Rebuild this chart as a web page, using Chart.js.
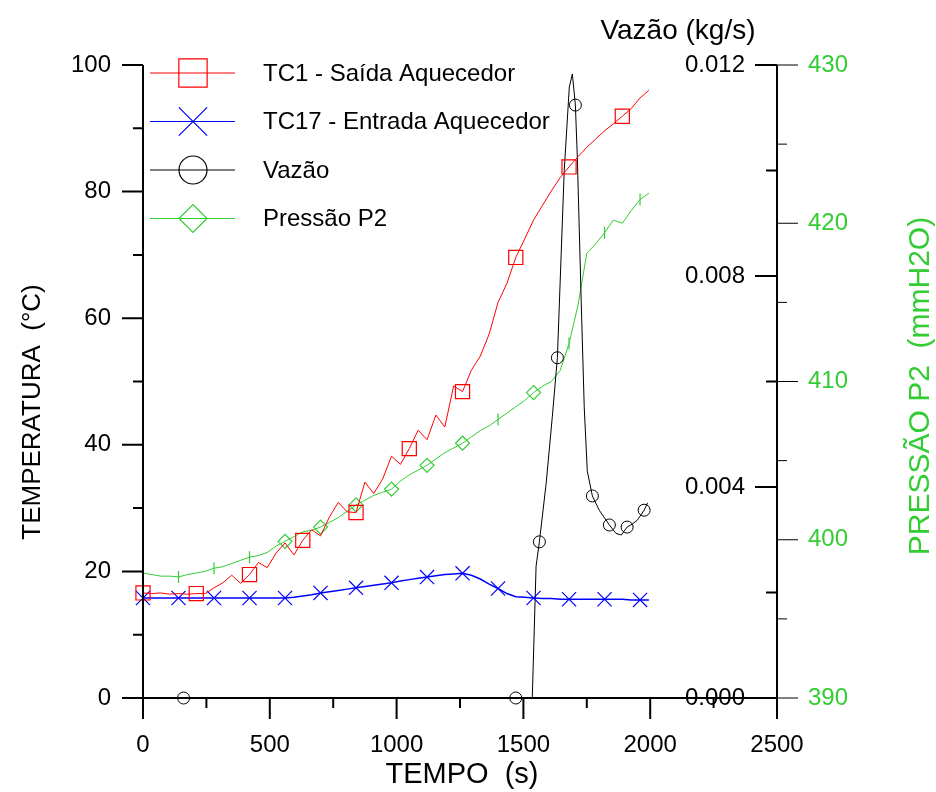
<!DOCTYPE html>
<html>
<head>
<meta charset="utf-8">
<script src="https://cdn.jsdelivr.net/npm/chart.js@4.4.1/dist/chart.umd.min.js"></script>
<style>
  html, body { margin: 0; padding: 0; background: #fff; }
</style>
</head>
<body>
<canvas id="myChart" width="936" height="792"></canvas>
<script>
// tempo (s) das leituras de temperatura e pressao
const tempo = [0, 35, 70, 105, 140, 175, 210, 245, 280, 315, 350, 385, 420, 455, 490, 525, 560, 595,
  630, 665, 700, 735, 770, 805, 840, 875, 910, 945, 980, 1015, 1050, 1085, 1120, 1155, 1190, 1225,
  1260, 1295, 1330, 1365, 1400, 1435, 1470, 1505, 1540, 1575, 1610, 1645, 1680, 1715, 1750, 1785,
  1820, 1855, 1890, 1925, 1960, 1995];

// TC1 - Saida Aquecedor (C)
const tc1 = [16.6, 16.5, 16.6, 16.4, 16.5, 16.4, 16.5, 16.5, 17.4, 18.2, 19.4, 18.1, 19.5, 21.4, 20.6,
  22.9, 24.5, 22.6, 24.9, 26.6, 25.6, 28.6, 30.9, 29.4, 29.3, 34.1, 32.3, 34.6, 38.2, 36.9, 39.4,
  42.3, 40.8, 44.7, 42.8, 49.3, 48.4, 51.8, 54.0, 57.5, 62.5, 65.5, 69.6, 72.5, 75.5, 77.8, 80.1,
  82.2, 83.9, 85.5, 87.0, 88.3, 89.6, 90.7, 91.9, 93.1, 94.8, 96.0];

// TC17 - Entrada Aquecedor (C)
const tc17 = [15.8, 15.8, 15.8, 15.8, 15.8, 15.8, 15.8, 15.8, 15.8, 15.8, 15.8, 15.8, 15.8, 15.8, 15.8,
  15.8, 15.8, 15.9, 16.1, 16.3, 16.6, 16.8, 17.0, 17.2, 17.4, 17.6, 17.8, 18.0, 18.2, 18.5, 18.7,
  18.9, 19.1, 19.3, 19.5, 19.6, 19.7, 19.4, 18.8, 18.0, 17.3, 16.5, 16.0, 15.9, 15.8, 15.7, 15.7,
  15.6, 15.6, 15.6, 15.6, 15.6, 15.6, 15.6, 15.6, 15.5, 15.5, 15.5];

// Pressao P2 (mmH2O)
const p2 = [397.9, 397.8, 397.7, 397.7, 397.65, 397.8, 397.9, 398.0, 398.2, 398.3, 398.5, 398.7, 398.9,
  399.0, 399.2, 399.6, 399.9, 400.2, 400.5, 400.6, 400.8, 401.1, 401.4, 401.8, 402.2, 402.5, 402.8,
  403.0, 403.2, 403.7, 404.1, 404.4, 404.7, 405.1, 405.5, 405.8, 406.1, 406.5, 406.9, 407.2, 407.6,
  408.0, 408.4, 408.8, 409.3, 409.7, 410.0, 410.7, 412.4, 414.8, 418.1, 418.7, 419.4, 420.2, 420.0,
  420.8, 421.5, 421.9];

// Vazao (kg/s), com tempo proprio
const vazaoTempo = [0, 160, 1470, 1535, 1550, 1563, 1590, 1614, 1634, 1661, 1681, 1693, 1705, 1713,
  1728, 1740, 1752, 1772, 1799, 1839, 1865, 1886, 1909, 1930, 1949, 1976, 1990];
const vazao = [0, 0, 0, 0, 0.0025, 0.00296, 0.00408, 0.00533, 0.00645, 0.0100, 0.01158, 0.01183,
  0.01124, 0.0102, 0.0075, 0.0055, 0.0043, 0.00383, 0.00356, 0.00328, 0.00312, 0.00309, 0.00324,
  0.0033, 0.00337, 0.00356, 0.0037];
const vazaoMarcas = [1, 2, 5, 8, 12, 17, 19, 22, 25];

// marcadores da pressao: losango ou traco vertical
const p2Losangos = [560, 700, 840, 980, 1120, 1260, 1540];

const legendaNomes = ['TC1 - Saída Aquecedor', 'TC17 - Entrada Aquecedor', 'Vazão', 'Pressão P2'];

const verde = 'rgb(51,204,51)';
const fonte = '"Liberation Sans", Arial, sans-serif';

function pares(xs, ys) {
  return xs.map((x, i) => ({ x: x, y: ys[i] }));
}

const eixos = {
  id: 'eixos',
  afterDatasetsDraw(chart) {
    const ctx = chart.ctx;
    const sx = chart.scales.x, sT = chart.scales.yT, sV = chart.scales.yV, sP = chart.scales.yP;
    const xL = sx.getPixelForValue(0), xR = sx.getPixelForValue(2500);
    const yB = sT.getPixelForValue(0), yTop = sT.getPixelForValue(100);
    ctx.save();
    ctx.strokeStyle = '#000';
    ctx.lineWidth = 2;
    ctx.beginPath();
    ctx.moveTo(xL, yTop); ctx.lineTo(xL, yB + 21);
    ctx.moveTo(xL - 21, yB); ctx.lineTo(xR, yB);
    ctx.moveTo(xR, yTop); ctx.lineTo(xR, yB + 21);
    // temperatura
    for (let v = 0; v <= 100; v += 10) {
      const y = sT.getPixelForValue(v);
      const len = v % 20 === 0 ? 21 : 10;
      ctx.moveTo(xL - len, y); ctx.lineTo(xL, y);
    }
    // tempo
    for (let v = 0; v <= 2500; v += 250) {
      const x = sx.getPixelForValue(v);
      const len = v % 500 === 0 ? 21 : 10;
      ctx.moveTo(x, yB); ctx.lineTo(x, yB + len);
    }
    // vazao
    for (let i = 0; i <= 6; i++) {
      const y = sV.getPixelForValue(i * 0.002);
      const len = i % 2 === 0 ? 22 : 11;
      ctx.moveTo(xR - len, y); ctx.lineTo(xR, y);
    }
    ctx.stroke();
    // pressao
    ctx.lineWidth = 1;
    ctx.beginPath();
    for (let v = 390; v <= 430; v += 5) {
      const y = sP.getPixelForValue(v);
      const len = v % 10 === 0 ? 21 : 10;
      ctx.moveTo(xR, y); ctx.lineTo(xR + len, y);
    }
    ctx.stroke();

    ctx.font = '24px ' + fonte;
    ctx.fillStyle = '#000';
    ctx.textBaseline = 'middle';
    ctx.textAlign = 'right';
    for (let v = 0; v <= 100; v += 20) {
      ctx.fillText(String(v), xL - 32, sT.getPixelForValue(v));
    }
    for (let i = 0; i <= 6; i += 2) {
      const v = i * 0.002;
      ctx.fillText(v.toFixed(3), xR - 32, sV.getPixelForValue(v));
    }
    ctx.textAlign = 'center';
    for (let v = 0; v <= 2500; v += 500) {
      ctx.fillText(String(v), sx.getPixelForValue(v), yB + 47);
    }
    ctx.textAlign = 'left';
    ctx.fillStyle = verde;
    for (let v = 390; v <= 430; v += 10) {
      ctx.fillText(String(v), xR + 31, sP.getPixelForValue(v));
    }

    // titulos
    ctx.fillStyle = '#000';
    ctx.textAlign = 'center';
    ctx.font = '29px ' + fonte;
    ctx.fillText('TEMPO  (s)', 462, 775);
    ctx.font = '28px ' + fonte;
    ctx.fillText('Vazão (kg/s)', 678, 31);
    ctx.save();
    ctx.translate(33, 412);
    ctx.rotate(-Math.PI / 2);
    ctx.font = '26px ' + fonte;
    ctx.fillText('TEMPERATURA  (°C)', 0, 0);
    ctx.restore();
    ctx.save();
    ctx.translate(921, 386);
    ctx.rotate(-Math.PI / 2);
    ctx.font = '30px ' + fonte;
    ctx.fillStyle = verde;
    ctx.fillText('PRESSÃO P2  (mmH2O)', 0, 0);
    ctx.restore();

    // legenda
    const cores = ['#ff0000', '#0000ff', '#000000', verde];
    const estilos = ['rect', 'crossRot', 'circle', 'rectRot'];
    const raios = [20, 20, 14, 14];
    ctx.font = '24px ' + fonte;
    ctx.textAlign = 'left';
    legendaNomes.forEach((nome, i) => {
      const y = 73 + i * 48.5;
      ctx.strokeStyle = cores[i];
      ctx.lineWidth = 1;
      ctx.beginPath();
      ctx.moveTo(150, y); ctx.lineTo(235, y);
      ctx.stroke();
      ctx.fillStyle = 'rgba(0,0,0,0)';
      ctx.lineWidth = 1.2;
      Chart.helpers.drawPoint(ctx, {
        pointStyle: estilos[i], radius: raios[i], borderWidth: 1.2, rotation: 0
      }, 193, y);
      ctx.fillStyle = '#000';
      ctx.fillText(nome, 263, y + 1);
    });
    ctx.restore();
  }
};

const ctx = document.getElementById('myChart');

new Chart(ctx, {
  type: 'line',
  data: {
    datasets: [{
      label: legendaNomes[0],
      data: pares(tempo, tc1),
      yAxisID: 'yT',
      borderColor: '#ff0000',
      borderWidth: 1,
      pointStyle: 'rect',
      pointRadius: c => (c.dataIndex % 6 === 0 ? 10 : 0),
      pointBorderColor: '#ff0000',
      pointBorderWidth: 1.2,
      pointBackgroundColor: 'rgba(0,0,0,0)'
    }, {
      label: legendaNomes[1],
      data: pares(tempo, tc17),
      yAxisID: 'yT',
      borderColor: '#0000ff',
      borderWidth: 1.5,
      pointStyle: 'crossRot',
      pointRadius: c => (c.dataIndex % 4 === 0 ? 10 : 0),
      pointBorderColor: '#0000ff',
      pointBorderWidth: 1.2,
      pointBackgroundColor: 'rgba(0,0,0,0)'
    }, {
      label: legendaNomes[2],
      data: pares(vazaoTempo, vazao),
      yAxisID: 'yV',
      borderColor: '#000000',
      borderWidth: 1,
      pointStyle: 'circle',
      pointRadius: c => (vazaoMarcas.includes(c.dataIndex) ? 6 : 0),
      pointBorderColor: '#000000',
      pointBorderWidth: 1,
      pointBackgroundColor: 'rgba(0,0,0,0)'
    }, {
      label: legendaNomes[3],
      data: pares(tempo, p2),
      yAxisID: 'yP',
      borderColor: verde,
      borderWidth: 1,
      pointStyle: c => (p2Losangos.includes(tempo[c.dataIndex]) ? 'rectRot' : 'line'),
      pointRotation: c => (p2Losangos.includes(tempo[c.dataIndex]) ? 0 : 90),
      pointRadius: c => (c.dataIndex % 4 !== 0 ? 0 : (p2Losangos.includes(tempo[c.dataIndex]) ? 7 : 6)),
      pointBorderColor: verde,
      pointBorderWidth: 1.2,
      pointBackgroundColor: 'rgba(0,0,0,0)'
    }]
  },
  options: {
    responsive: false,
    animation: false,
    devicePixelRatio: 1,
    clip: false,
    layout: { padding: { left: 143, right: 159, top: 65, bottom: 94 } },
    elements: { line: { tension: 0 } },
    plugins: { legend: { display: false }, tooltip: { enabled: false } },
    scales: {
      x: { type: 'linear', min: 0, max: 2500, display: false },
      yT: { type: 'linear', min: 0, max: 100, display: false },
      yV: { type: 'linear', min: 0, max: 0.012, display: false },
      yP: { type: 'linear', min: 390, max: 430, display: false }
    }
  },
  plugins: [eixos]
});
</script>
</body>
</html>
